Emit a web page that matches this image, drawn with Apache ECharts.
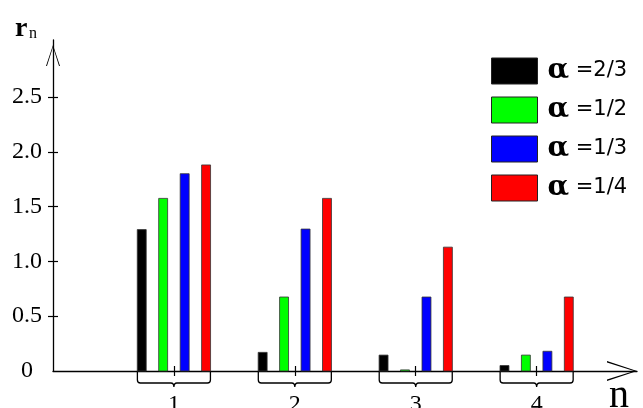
<!DOCTYPE html>
<html>
<head>
<meta charset="utf-8">
<script src="https://cdn.jsdelivr.net/npm/echarts@6/dist/echarts.min.js"></script>
<style>html,body{margin:0;padding:0;background:#fff}#c{width:643px;height:408px}</style>
</head>
<body>
<div id="c"></div>
<script>
// ---- data ----
var categories = [1, 2, 3, 4];
var seriesNames = ['2/3', '1/2', '1/3', '1/4'];
var seriesColors = ['#000000', '#00ff00', '#0000ff', '#ff0000'];
var alpha23 = [1.29, 0.17, 0.145, 0.05];
var alpha12 = [1.575, 0.675, 0.01, 0.145];
var alpha13 = [1.80, 1.295, 0.675, 0.18];
var alpha14 = [1.88, 1.575, 1.13, 0.675];
var yTicks = [0, 0.5, 1.0, 1.5, 2.0, 2.5];

var seriesValues = [alpha23, alpha12, alpha13, alpha14];
var offsets = [-0.266, -0.089, 0.089, 0.266];
var barW = 0.074;

var chart = echarts.init(document.getElementById('c'), null, {renderer: 'canvas'});

var vArrow = 'path://M10,0 L20,30 L18.6,30 L10,3 L1.4,30 L0,30 Z';
var serif = '"Liberation Serif", "Times New Roman", serif';

var series = seriesValues.map(function (vals, i) {
  return {
    type: 'custom',
    name: seriesNames[i],
    itemStyle: {color: seriesColors[i]},
    data: categories.map(function (c, k) { return [c, vals[k]]; }),
    encode: {x: 0, y: 1},
    z: 3,
    renderItem: function (params, api) {
      var n = api.value(0), v = api.value(1);
      var base = api.coord([n, 0]);
      var top = api.coord([n, v]);
      var unit = api.size([1, 0])[0];
      var cx = base[0] + offsets[i] * unit;
      var w = barW * unit;
      return {
        type: 'rect',
        shape: {x: cx - w / 2, y: top[1], width: w, height: Math.max(1, base[1] - top[1])},
        style: {fill: seriesColors[i], stroke: '#333', lineWidth: 0.8}
      };
    }
  };
});

series.push({
  type: 'custom',
  name: 'braces',
  data: categories.map(function (c) { return [c, 0]; }),
  encode: {x: 0, y: 1},
  z: 2,
  silent: true,
  renderItem: function (params, api) {
    var n = api.value(0);
    var c = api.coord([n, 0]);
    var unit = api.size([1, 0])[0];
    var hw = 0.302 * unit;
    var x0 = c[0] - hw, x1 = c[0] + hw, xc = c[0];
    var y0 = c[1], yb = y0 + 12, r = 3;
    var d = 'M' + x0 + ',' + y0 + ' L' + x0 + ',' + (yb - r) +
      ' Q' + x0 + ',' + yb + ' ' + (x0 + r) + ',' + yb +
      ' L' + (xc - 3) + ',' + yb +
      ' Q' + xc + ',' + yb + ' ' + xc + ',' + (yb + 4) +
      ' Q' + xc + ',' + yb + ' ' + (xc + 3) + ',' + yb +
      ' L' + (x1 - r) + ',' + yb +
      ' Q' + x1 + ',' + yb + ' ' + x1 + ',' + (yb - r) +
      ' L' + x1 + ',' + y0;
    return {
      type: 'path',
      shape: {pathData: d},
      style: {stroke: '#000', fill: 'none', lineWidth: 1.3}
    };
  }
});

var option = {
  animation: false,
  grid: {left: 53, right: 6, top: 40, bottom: 37, containLabel: false, outerBoundsMode: 'none'},
  legend: {
    data: seriesNames,
    orient: 'vertical',
    left: 491,
    top: 57,
    padding: 0,
    itemWidth: 46,
    itemHeight: 26,
    itemGap: 11,
    icon: 'rect',
    itemStyle: {borderColor: '#222', borderWidth: 1},
    formatter: function (name) { return '{a|α}{b| =' + name + '}'; },
    textStyle: {
      padding: [0, 0, 0, 5],
      rich: {
        a: {fontFamily: 'DejaVu Serif', fontWeight: 'bold', fontSize: 28, color: '#000'},
        b: {fontFamily: 'DejaVu Sans', fontSize: 21, color: '#000'}
      }
    }
  },
  xAxis: [{
    type: 'value', min: 0, max: 4.83, interval: 1,
    splitLine: {show: false},
    axisLine: {show: true, onZero: false, lineStyle: {color: '#000', width: 1.3},
      symbol: ['none', vArrow], symbolSize: [22, 30], symbolOffset: [0, -15]},
    axisTick: {show: true, length: 5, lineStyle: {color: '#000', width: 1.2}, customValues: categories},
    axisLabel: {show: true, customValues: categories, margin: 22,
      fontFamily: serif, fontSize: 24, color: '#000',
      formatter: function (v) { return String(v); }}
  }, {
    type: 'value', min: 0, max: 4.83, interval: 1, position: 'bottom',
    splitLine: {show: false},
    axisLine: {show: false},
    axisTick: {show: true, inside: true, length: 5, lineStyle: {color: '#000', width: 1.2}, customValues: categories},
    axisLabel: {show: false}
  }],
  yAxis: [{
    type: 'value', min: 0, max: 3.02, interval: 0.5,
    splitLine: {show: false},
    axisLine: {show: true, onZero: false, lineStyle: {color: '#000', width: 1.3},
      symbol: ['none', vArrow], symbolSize: [14, 31], symbolOffset: [0, -15.5]},
    axisTick: {show: true, length: 5, lineStyle: {color: '#000', width: 1.2}, customValues: yTicks.slice(1)},
    axisLabel: {show: true, customValues: yTicks, margin: 26, align: 'center',
      fontFamily: serif, fontSize: 24, color: '#000',
      formatter: function (v) { return v === 0 ? '0' : v.toFixed(1); }}
  }, {
    type: 'value', min: 0, max: 3.02, interval: 0.5, position: 'left',
    splitLine: {show: false},
    axisLine: {show: false},
    axisTick: {show: true, inside: true, length: 5, lineStyle: {color: '#000', width: 1.2}, customValues: yTicks.slice(1)},
    axisLabel: {show: false}
  }],
  graphic: [
    {type: 'text', left: 15, top: 15, style: {text: 'r', font: 'bold 28px "Liberation Serif"', fill: '#000'}},
    {type: 'text', left: 29, top: 26, style: {text: 'n', font: '16px "Liberation Serif"', fill: '#000'}},
    {type: 'text', left: 609, top: 376, style: {text: 'n', font: '40px "Liberation Serif"', fill: '#000'}}
  ],
  series: series
};

chart.setOption(option);
</script>
</body>
</html>
